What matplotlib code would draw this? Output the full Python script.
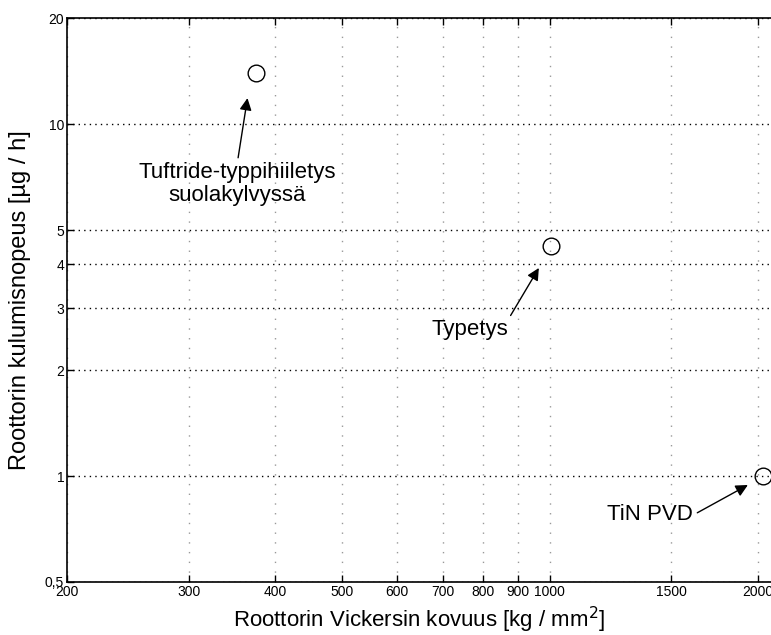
import matplotlib as mpl
mpl.use('agg')
import numpy as np
from matplotlib import pyplot as plt

# measured points (hardness HV, wear rate ug/h)
hardness = [375, 1005, 2035]
wear_rate = [14.0, 4.5, 1.0]
labels = ['Tuftride-typpihiiletys\nsuolakylvyssä', 'Typetys', 'TiN PVD']
# annotation text centres and arrow heads (data coords)
text_x = [353, 766, 1398]
text_y = [6.75, 2.6, 0.775]
head_x = [365, 964, 1935]
head_y = [11.85, 3.9, 0.943]
arrow_from = [(0.5, 1.0), (1.0, 1.0), (1.0, 0.5)]

x_ticks = [200, 300, 400, 500, 600, 700, 800, 900, 1000, 1500, 2000]
y_ticks = [0.5, 1, 2, 3, 4, 5, 10, 20]
y_ticklabels = ['0,5', '1', '2', '3', '4', '5', '10', '20']

plt.rcParams['font.family'] = ['Liberation Sans', 'DejaVu Sans']

fig = plt.figure(figsize=(7.71, 6.35), dpi=100)
ax = fig.add_axes([0.0869, 0.0835, 0.9131, 0.888])

ax.set_xscale('log')
ax.set_yscale('log')
ax.set_xlim(200, 2090)
ax.set_ylim(0.5, 20)

ax.plot(hardness, wear_rate, 'o', markersize=12, markerfacecolor='none',
        markeredgecolor='black', markeredgewidth=1.0, clip_on=False, zorder=5)

ax.minorticks_off()
ax.set_xticks(x_ticks)
ax.set_xticklabels([str(t) for t in x_ticks], fontsize=10)
ax.set_yticks(y_ticks)
ax.set_yticklabels(y_ticklabels, fontsize=10)
ax.tick_params(direction='in', top=True, length=5, width=1, pad=2)

ax.xaxis.grid(True, linestyle=(0, (1, 6)), color='#999999', linewidth=1.0)
ax.yaxis.grid(True, linestyle=(0, (1, 3)), color='black', linewidth=1.0)

ax.spines['right'].set_visible(False)
for s in ['left', 'top', 'bottom']:
    ax.spines[s].set_linewidth(1.2)

for i in range(len(labels)):
    ax.annotate(labels[i], xy=(head_x[i], head_y[i]), xytext=(text_x[i], text_y[i]),
                ha='center', va='center', fontsize=16, linespacing=1.15,
                arrowprops=dict(arrowstyle='-|>', color='black', lw=1.0,
                                mutation_scale=18, shrinkA=1, shrinkB=0,
                                relpos=arrow_from[i]))

ax.set_xlabel('Roottorin Vickersin kovuus [kg / mm$^2$]', fontsize=16, labelpad=4)
ax.set_ylabel('Roottorin kulumisnopeus [µg / h]', fontsize=17, labelpad=10)

plt.savefig('out.png', dpi=100)
